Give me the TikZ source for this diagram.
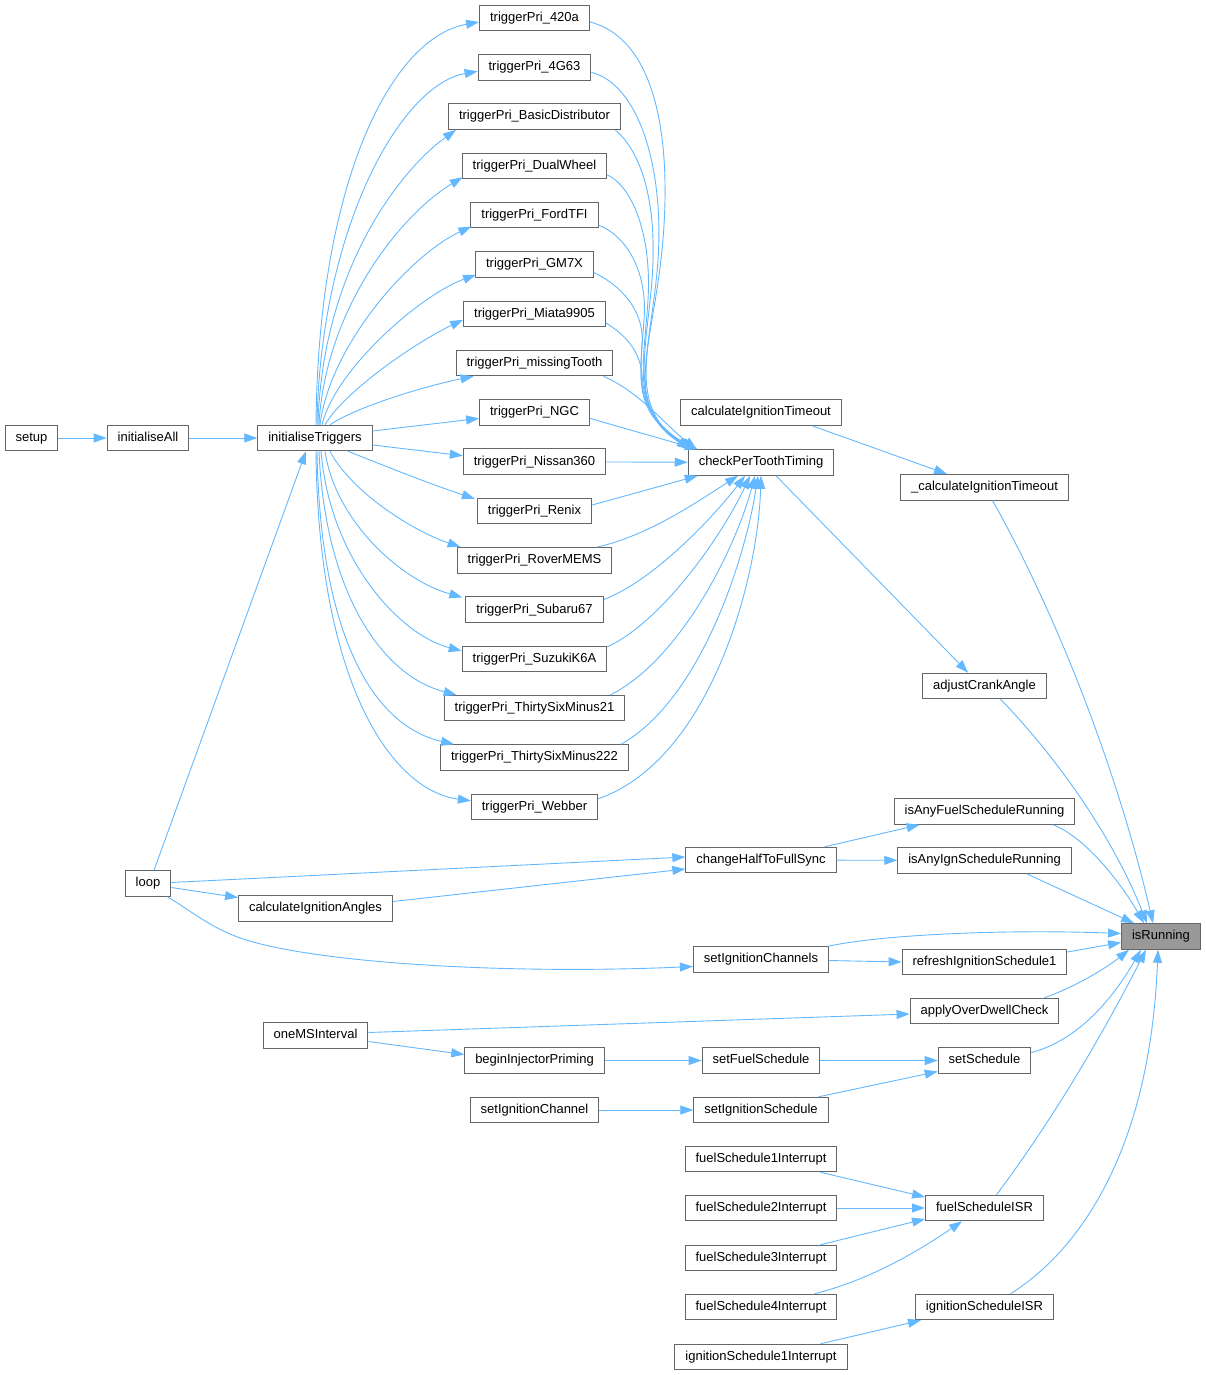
\documentclass[tikz,border=0pt]{standalone}
\usepackage{fontspec}
\setmainfont{Liberation Sans}
\usetikzlibrary{arrows.meta,calc}
\definecolor{edgec}{HTML}{63B8FF}
\definecolor{boxc}{HTML}{666666}
\definecolor{hl}{HTML}{999999}
\begin{document}
\begin{tikzpicture}[x=1pt,y=-1pt,
 fn/.style={draw=boxc,fill=white,line width=1pt,inner xsep=10.5pt,inner ysep=0pt,minimum height=25.5pt,font=\fontsize{13}{15}\selectfont,text height=9.5pt,text depth=2.7pt},
 hi/.style={fn,fill=hl},
 e/.style={draw=edgec,line width=0.9pt,-{Triangle[length=13pt,width=9pt]}}]
\useasboundingbox (0,0) rectangle (1206,1375);

% nodes
\node[fn] (setup) at (31.5,438) {setup};
\node[fn] (initAll) at (148,438) {initialiseAll};
\node[fn] (initTrig) at (315,438) {initialiseTriggers};
\node[fn] (t0) at (534.5,18) {triggerPri\_420a};
\node[fn] (t1) at (534.5,67.3) {triggerPri\_4G63};
\node[fn] (t2) at (534.5,116.6) {triggerPri\_BasicDistributor};
\node[fn] (t3) at (534.5,165.9) {triggerPri\_DualWheel};
\node[fn] (t4) at (534.5,215.2) {triggerPri\_FordTFI};
\node[fn] (t5) at (534.5,264.5) {triggerPri\_GM7X};
\node[fn] (t6) at (534.5,313.8) {triggerPri\_Miata9905};
\node[fn] (t7) at (534.5,363.1) {triggerPri\_missingTooth};
\node[fn] (t8) at (534.5,412.4) {triggerPri\_NGC};
\node[fn] (t9) at (534.5,461.7) {triggerPri\_Nissan360};
\node[fn] (t10) at (534.5,511) {triggerPri\_Renix};
\node[fn] (t11) at (534.5,560.3) {triggerPri\_RoverMEMS};
\node[fn] (t12) at (534.5,609.6) {triggerPri\_Subaru67};
\node[fn] (t13) at (534.5,658.9) {triggerPri\_SuzukiK6A};
\node[fn] (t14) at (534.5,708.2) {triggerPri\_ThirtySixMinus21};
\node[fn] (t15) at (534.5,757.5) {triggerPri\_ThirtySixMinus222};
\node[fn] (t16) at (534.5,806.8) {triggerPri\_Webber};
\node[fn] (calcIT) at (761,412.5) {calculateIgnitionTimeout};
\node[fn] (cp) at (761,462.5) {checkPerToothTiming};
\node[fn] (cIT) at (984.5,487.3) {\_calculateIgnitionTimeout};
\node[fn] (adj) at (984.5,686) {adjustCrankAngle};
\node[fn] (fuelRun) at (984.5,811.5) {isAnyFuelScheduleRunning};
\node[fn] (ignRun) at (984.5,860.5) {isAnyIgnScheduleRunning};
\node[fn] (half) at (761,860) {changeHalfToFullSync};
\node[fn] (loop) at (148,883.5) {loop};
\node[fn] (cia) at (315.5,908.5) {calculateIgnitionAngles};
\node[hi] (isR) at (1161,936.5) {isRunning};
\node[fn] (sic) at (761,959.5) {setIgnitionChannels};
\node[fn] (ref) at (984.5,962) {refreshIgnitionSchedule1};
\node[fn] (aodc) at (984.5,1011) {applyOverDwellCheck};
\node[fn] (oneMS) at (315.5,1035.5) {oneMSInterval};
\node[fn] (bip) at (534.5,1060.5) {beginInjectorPriming};
\node[fn] (sfs) at (761,1060.5) {setFuelSchedule};
\node[fn] (ss) at (984.5,1060.5) {setSchedule};
\node[fn] (sich) at (534.5,1110) {setIgnitionChannel};
\node[fn] (sis) at (761,1110) {setIgnitionSchedule};
\node[fn] (f1) at (761,1159) {fuelSchedule1Interrupt};
\node[fn] (fisr) at (984.5,1208) {fuelScheduleISR};
\node[fn] (f2) at (761,1208) {fuelSchedule2Interrupt};
\node[fn] (f3) at (761,1258) {fuelSchedule3Interrupt};
\node[fn] (f4) at (761,1307) {fuelSchedule4Interrupt};
\node[fn] (iisr) at (984.5,1307) {ignitionScheduleISR};
\node[fn] (i1) at (761,1357) {ignitionSchedule1Interrupt};

% edges
\draw[e] (setup) -- (initAll);
\draw[e] (initAll) -- (initTrig);
\draw[e] ($(loop.north)+(6,0)$) -- ($(initTrig.south)+(-9,0)$);

\draw[e] ($(initTrig.north)+(1,0)$) .. controls (318,185) and (390,38) .. ($(t0.west)+(0,4)$);
\draw[e] ($(initTrig.north)+(2,0)$) .. controls (320,230) and (400,85) .. ($(t1.west)+(0,4)$);
\draw[e] ($(initTrig.north)+(3,0)$) .. controls (322,270) and (400,170) .. ($(t2.south west)+(8,0)$);
\draw[e] ($(initTrig.north)+(4,0)$) .. controls (325,310) and (400,215) .. ($(t3.south west)+(1,-2)$);
\draw[e] ($(initTrig.north)+(5,0)$) .. controls (330,345) and (410,255) .. ($(t4.south west)+(1,-2)$);
\draw[e] ($(initTrig.north)+(7,0)$) .. controls (335,370) and (420,295) .. ($(t5.south west)+(1,-3)$);
\draw[e] ($(initTrig.north)+(10,0)$) .. controls (345,390) and (420,340) .. ($(t6.west)+(0,6)$);
\draw[e] ($(initTrig.north)+(15,0)$) .. controls (360,405) and (430,385) .. ($(t7.south west)+(18,0)$);
\draw[e] ($(initTrig.east)+(0,-7)$) -- ($(t8.west)+(0,6)$);
\draw[e] ($(initTrig.east)+(0,7)$) -- ($(t9.west)+(0,-6)$);
\draw[e] ($(initTrig.south)+(33,0)$) .. controls (390,468) and (430,484) .. ($(t10.north west)+(-2,1)$);
\draw[e] ($(initTrig.south)+(15,0)$) .. controls (350,490) and (410,530) .. ($(t11.north west)+(4,0)$);
\draw[e] ($(initTrig.south)+(10,0)$) .. controls (335,520) and (400,580) .. ($(t12.north west)+(-3,1)$);
\draw[e] ($(initTrig.south)+(6,0)$) .. controls (330,560) and (400,635) .. ($(t13.west)+(0,-8)$);
\draw[e] ($(initTrig.south)+(4,0)$) .. controls (325,590) and (380,675) .. ($(t14.north west)+(13,0)$);
\draw[e] ($(initTrig.south)+(2,0)$) .. controls (320,630) and (370,725) .. ($(t15.north west)+(14,0)$);
\draw[e] ($(initTrig.south)+(1,0)$) .. controls (318,680) and (390,790) .. ($(t16.west)+(0,-6)$);

\draw[e] ($(t0.east)+(0,4)$) .. controls (660,40) and (672,150) .. (662,250) .. controls (652,350) and (622,405) .. ($(cp.north west)+(2,0)$);
\draw[e] ($(t1.east)+(0,5)$) .. controls (640,85) and (664,170) .. (658,260) .. controls (652,345) and (625,405) .. ($(cp.north west)+(3,0)$);
\draw[e] ($(t2.south east)+(-6,0)$) .. controls (640,150) and (658,200) .. (652,280) .. controls (646,355) and (628,410) .. ($(cp.north west)+(4,0)$);
\draw[e] ($(t3.east)+(0,9)$) .. controls (630,185) and (652,230) .. (648,300) .. controls (644,365) and (630,410) .. ($(cp.north west)+(5,0)$);
\draw[e] ($(t4.east)+(0,10)$) .. controls (625,235) and (648,270) .. (644,320) .. controls (640,375) and (632,410) .. ($(cp.north west)+(6,0)$);
\draw[e] ($(t5.east)+(0,8)$) .. controls (620,285) and (645,310) .. (642,345) .. controls (640,385) and (636,415) .. ($(cp.north west)+(7,0)$);
\draw[e] ($(t6.east)+(0,9)$) .. controls (625,335) and (640,350) .. (642,375) .. controls (644,400) and (650,425) .. ($(cp.north west)+(8,0)$);
\draw[e] ($(t7.south east)+(-10,0)$) .. controls (640,392) and (665,425) .. ($(cp.north west)+(9,0)$);
\draw[e] ($(t8.east)+(0,6)$) -- ($(cp.north west)+(10,0)$);
\draw[e] (t9) -- (cp);
\draw[e] ($(t10.east)+(0,-6)$) -- ($(cp.south west)+(10,0)$);
\draw[e] ($(t11.north east)+(-15,0)$) .. controls (650,535) and (700,500) .. ($(cp.south)+(-23,0)$);
\draw[e] ($(t12.east)+(0,-10)$) .. controls (655,580) and (715,515) .. ($(cp.south)+(-16,0)$);
\draw[e] ($(t13.east)+(0,-12)$) .. controls (665,620) and (725,530) .. ($(cp.south)+(-11,0)$);
\draw[e] ($(t14.north east)+(-15,0)$) .. controls (680,660) and (735,550) .. ($(cp.south)+(-6,0)$);
\draw[e] ($(t15.north east)+(-8,0)$) .. controls (700,700) and (745,560) .. ($(cp.south)+(-3,0)$);
\draw[e] ($(t16.east)+(0,-8)$) .. controls (710,760) and (758,580) .. (cp.south);

\draw[e] ($(calcIT.south)+(51,0)$) -- ($(cIT.north west)+(47,0)$);
\draw[e] ($(cp.south)+(15,0)$) -- ($(adj.north west)+(46,0)$);

\draw[e] ($(cIT.south)+(8,0)$) .. controls (1060,620) and (1120,780) .. ($(isR.north)+(-8,0)$);
\draw[e] ($(adj.south)+(16,0)$) .. controls (1050,750) and (1110,830) .. ($(isR.north)+(-14,0)$);
\draw[e] ($(fuelRun.south east)+(-22,0)$) .. controls (1090,840) and (1125,890) .. ($(isR.north)+(-17,0)$);
\draw[e] ($(ignRun.south)+(42,0)$) -- ($(isR.north west)+(13,0)$);
\draw[e] ($(sic.north east)+(-1,0)$) .. controls (880,935) and (1000,929) .. ($(isR.west)+(0,-3)$);
\draw[e] ($(sic.east)+(0,1)$) -- (ref.west);
\draw[e] ($(ref.east)+(0,-10)$) -- ($(isR.west)+(0,6)$);
\draw[e] ($(aodc.north east)+(-15,0)$) .. controls (1080,985) and (1110,965) .. ($(isR.south west)+(8,0)$);
\draw[e] ($(ss.east)+(0,-8)$) .. controls (1080,1040) and (1115,995) .. ($(isR.south)+(-20,0)$);
\draw[e] ($(fisr.north)+(12,0)$) .. controls (1060,1110) and (1110,1020) .. ($(isR.south)+(-15,0)$);
\draw[e] ($(iisr.north)+(26,0)$) .. controls (1080,1250) and (1150,1150) .. ($(isR.south)+(-3,0)$);

\draw[e] ($(loop.east)+(0,-1)$) -- ($(half.west)+(0,-3)$);
\draw[e] ($(loop.east)+(0,4)$) -- ($(cia.west)+(0,-11)$);
\draw[e] ($(cia.east)+(0,-7)$) -- ($(half.west)+(0,9)$);
\draw[e] ($(loop.south east)+(-4,0)$) .. controls (190,910) and (205,924) .. (235,936) .. controls (300,962) and (500,975) .. ($(sic.west)+(0,7)$);
\draw[e] ($(half.north east)+(-12,0)$) -- ($(fuelRun.south west)+(26,0)$);
\draw[e] (half) -- (ignRun);

\draw[e] ($(oneMS.east)+(0,-3)$) -- ($(aodc.west)+(0,3)$);
\draw[e] ($(oneMS.east)+(0,6)$) -- ($(bip.west)+(0,-6)$);
\draw[e] (bip) -- (sfs);
\draw[e] (sfs) -- (ss);
\draw[e] (sich) -- (sis);
\draw[e] ($(sis.north east)+(-10,0)$) -- ($(ss.west)+(0,11)$);
\draw[e] ($(f1.south east)+(-17,0)$) -- ($(fisr.west)+(0,-11)$);
\draw[e] (f2) -- (fisr);
\draw[e] ($(f3.north east)+(-17,0)$) -- ($(fisr.west)+(0,11)$);
\draw[e] ($(f4.north east)+(-23,0)$) .. controls (870,1280) and (920,1250) .. ($(fisr.south west)+(37,0)$);
\draw[e] ($(i1.north east)+(-27,0)$) -- ($(iisr.south west)+(6,0)$);
\end{tikzpicture}
\end{document}
